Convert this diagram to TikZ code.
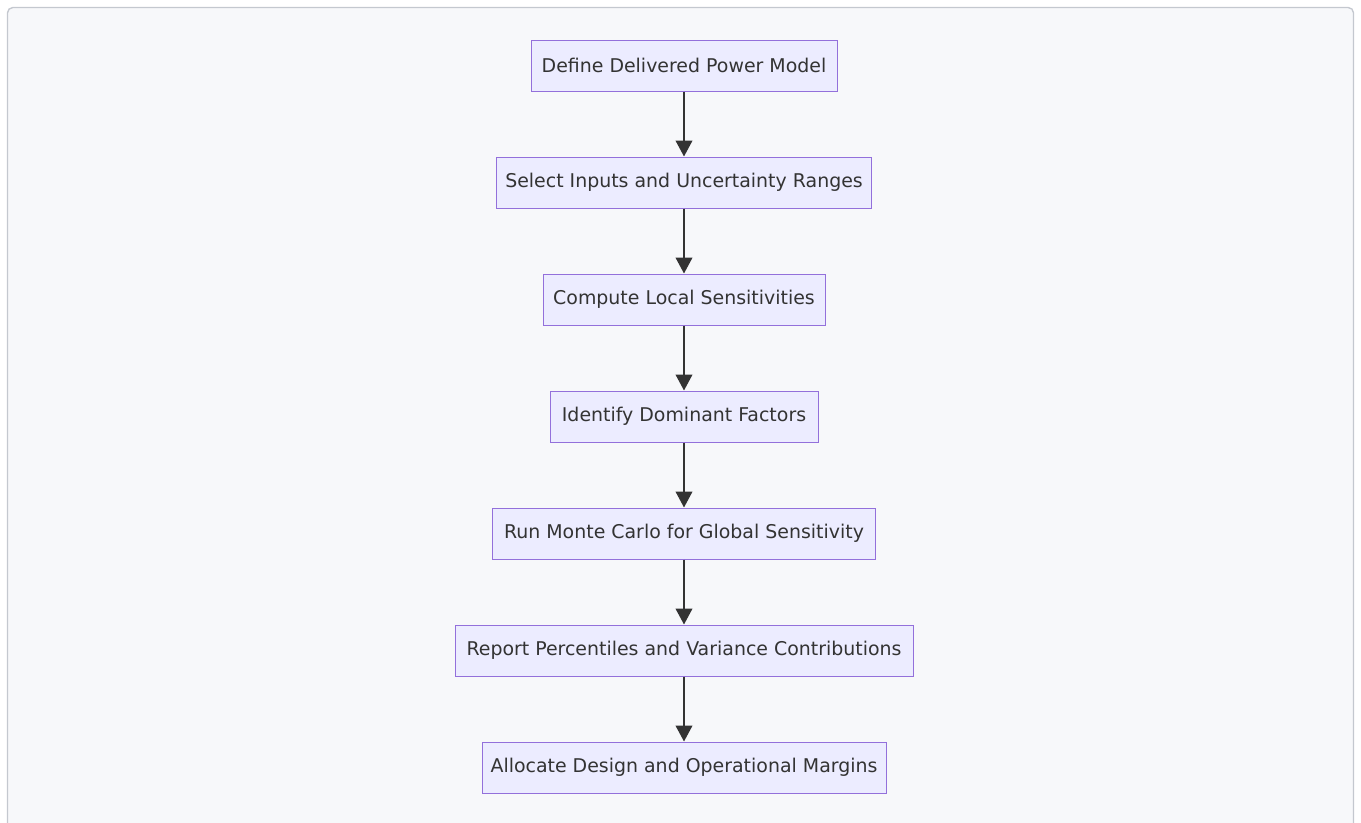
\documentclass[tikz,border=0pt]{standalone}
\usepackage{fontspec}
\setmainfont{DejaVu Sans}
\usetikzlibrary{arrows.meta}
\definecolor{nodefill}{HTML}{ECECFF}
\definecolor{nodeline}{HTML}{9370DB}
\definecolor{ink}{HTML}{333333}
\definecolor{panel}{HTML}{F7F8FA}
\definecolor{frame}{HTML}{C4C8CF}
\begin{document}
\begin{tikzpicture}[x=0.75pt,y=-0.75pt,
  stepbox/.style={draw=nodeline,fill=nodefill,line width=0.75pt,text=ink,
    inner sep=0pt,minimum height=38.25pt,font=\fontsize{14.2}{16}\selectfont},
  flow/.style={draw=ink,line width=1.5pt,-{Triangle[length=12pt,width=12.5pt]}}]
  \useasboundingbox (0,0) rectangle (1361,822);
  \begin{scope}
    \clip (0,0) rectangle (1361,822);
    \draw[frame,fill=panel,line width=1pt,rounded corners=4pt] (7.5,7.5) rectangle (1353.5,860);
  \end{scope}
  \node[stepbox,minimum width=229.5pt] (n1) at (684,65.5) {Define Delivered Power Model};
  \node[stepbox,minimum width=281.25pt] (n2) at (684,182.5) {Select Inputs and Uncertainty Ranges};
  \node[stepbox,minimum width=211.5pt] (n3) at (684,299.5) {Compute Local Sensitivities};
  \node[stepbox,minimum width=201pt] (n4) at (684,416.5) {Identify Dominant Factors};
  \node[stepbox,minimum width=287.25pt] (n5) at (684,533.5) {Run Monte Carlo for Global Sensitivity};
  \node[stepbox,minimum width=343.5pt] (n6) at (684,650.5) {Report Percentiles and Variance Contributions};
  \node[stepbox,minimum width=303pt] (n7) at (684,767.5) {Allocate Design and Operational Margins};
  \foreach \a/\b in {n1/n2,n2/n3,n3/n4,n4/n5,n5/n6,n6/n7}
    \draw[flow] (\a) -- (\b);
\end{tikzpicture}
\end{document}
